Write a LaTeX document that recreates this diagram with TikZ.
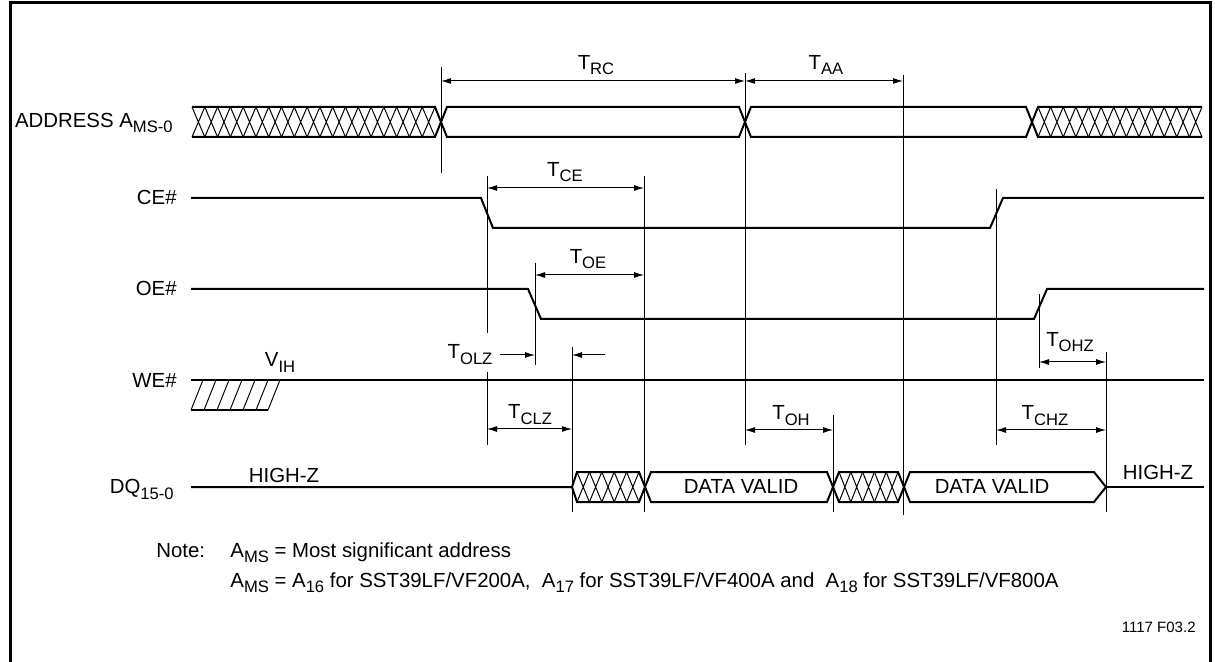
\documentclass[tikz,border=0pt]{standalone}
\usepackage{fontspec}
\setmainfont{Liberation Sans}
\usetikzlibrary{arrows.meta}
\newcommand{\tsub}[2]{#1\raisebox{-2.5pt}{\fontsize{8.3}{9}\selectfont #2}}
\newcommand{\xhatch}[4]{%
  \pgfmathsetmacro{\hw}{(#2-#1)/#4}%
  \foreach \k in {1,...,#4}{%
    \draw[hatch] ({#1+(\k-1)*\hw},{#3-15}) -- ({#1+\k*\hw},{#3+15})
      ({#1+\k*\hw},{#3-15}) -- ({#1+(\k-1)*\hw},{#3+15});}}

\begin{document}
\begin{tikzpicture}[x=0.5pt,y=-0.5pt,
  every node/.style={font=\fontsize{10.2}{12}\selectfont, inner sep=0pt},
  sig/.style={line width=1pt, line join=miter},
  ref/.style={line width=0.5pt},
  hatch/.style={line width=0.5pt},
  dim/.style={ref, {Latex[length=5pt,width=3pt]}-{Latex[length=5pt,width=3pt]}},
  tip/.style={ref, -{Latex[length=5pt,width=3pt]}}]
\useasboundingbox (0,0) rectangle (1215,662);
\draw[line width=1.5pt] (10,670) -- (10,3) -- (1210,3) -- (1210,670);

\node[anchor=base east] (addr) at (173,128) {ADDRESS \tsub{A}{MS-0}};
\node[anchor=base east] (ce) at (177,205) {CE\#};
\node[anchor=base east] (oe) at (177,296) {OE\#};
\node[anchor=base east] (we) at (177,387) {WE\#};
\node[anchor=base east] (dq) at (174,494) {\tsub{DQ}{15-0}};

\draw[sig] (192,107) -- (435,107) -- (441,122) -- (435,137) -- (192,137);
\xhatch{192}{435}{122}{19}
\draw[sig] (441,122) -- (447,107) -- (739,107) -- (745,122) -- (739,137) -- (447,137) -- cycle;
\draw[sig] (745,122) -- (751,107) -- (1026,107) -- (1032,122) -- (1026,137) -- (751,137) -- cycle;
\draw[sig] (1202,107) -- (1038,107) -- (1032,122) -- (1038,137) -- (1202,137);
\xhatch{1038}{1202}{122}{13}

\draw[sig] (191,198) -- (481,198) -- (493,228) -- (990,228) -- (1003,198) -- (1204,198);
\draw[sig] (191,289) -- (528,289) -- (541,319) -- (1034,319) -- (1047,289) -- (1204,289);
\draw[sig] (191,380) -- (1204,380);
\draw[sig] (191,410) -- (268,410);
\foreach \x in {191,204,217,230,243,256,268}
  \draw[hatch] (\x,410) -- (\x+12,380);

\draw[sig] (191,487) -- (572,487) -- (577,472) -- (639,472) -- (645,487) -- (639,502) -- (577,502) -- (572,487);
\xhatch{577}{639}{487}{5}
\draw[sig] (645,487) -- (651,472) -- (827,472) -- (833,487) -- (827,502) -- (651,502) -- cycle;
\draw[sig] (833,487) -- (839,472) -- (898,472) -- (904,487) -- (898,502) -- (839,502) -- cycle;
\xhatch{839}{898}{487}{5}
\draw[sig] (904,487) -- (910,472) -- (1094,472) -- (1106,487) -- (1094,502) -- (910,502) -- cycle;
\draw[sig] (1106,487) -- (1204,487);

\draw[ref] (441,67) -- (441,173);
\draw[ref] (745,73) -- (745,445);
\draw[ref] (903,75) -- (903,515);
\draw[ref] (487,176) -- (487,333) (487,372) -- (487,445);
\draw[ref] (535,263) -- (535,365);
\draw[ref] (572,347) -- (572,512);
\draw[ref] (644,176) -- (644,512);
\draw[ref] (833,415) -- (833,512);
\draw[ref] (996,189) -- (996,445);
\draw[ref] (1039,294) -- (1039,368);
\draw[ref] (1106,352) -- (1106,512);

\draw[dim] (441,81) -- (745,81);
\draw[dim] (745,81) -- (903,81);
\draw[dim] (487,188) -- (644,188);
\draw[dim] (535,275) -- (644,275);
\draw[tip] (500,355) -- (535,355);
\draw[tip] (605,355) -- (572,355);
\draw[dim] (487,429) -- (572,429);
\draw[dim] (745,430) -- (833,430);
\draw[dim] (996,430) -- (1106,430);
\draw[dim] (1039,362) -- (1106,362);

\node[anchor=base] (trc) at (596,70) {\tsub{T}{RC}};
\node[anchor=base] (taa) at (826,70) {\tsub{T}{AA}};
\node[anchor=base] (tce) at (565,177) {\tsub{T}{CE}};
\node[anchor=base] (toe) at (588,264) {\tsub{T}{OE}};
\node[anchor=base] (tolz) at (470,359) {\tsub{T}{OLZ}};
\node[anchor=base] (vih) at (280,367) {\tsub{V}{IH}};
\node[anchor=base] (tclz) at (530,419) {\tsub{T}{CLZ}};
\node[anchor=base] (toh) at (791,420) {\tsub{T}{OH}};
\node[anchor=base] (tchz) at (1045,420) {\tsub{T}{CHZ}};
\node[anchor=base] (tohz) at (1070,347) {\tsub{T}{OHZ}};
\node[anchor=base] (hz1) at (284,482) {HIGH-Z};
\node[anchor=base] (hz2) at (1158,480) {HIGH-Z};
\node[anchor=base] (dv1) at (741,494) {DATA VALID};
\node[anchor=base] (dv2) at (992,494) {DATA VALID};

\node[anchor=base west] (note) at (156,557) {Note:};
\node[anchor=base west] (ams1) at (230,557) {\tsub{A}{MS} = Most significant address};
\node[anchor=base west] (ams2) at (230,587) {\tsub{A}{MS} = \tsub{A}{16} for SST39LF/VF200A,\ \ \tsub{A}{17} for SST39LF/VF400A and\ \ \tsub{A}{18} for SST39LF/VF800A};
\node[anchor=base east, font=\fontsize{7.5}{9}\selectfont] (fig) at (1196,632) {1117 F03.2};
\end{tikzpicture}
\end{document}
